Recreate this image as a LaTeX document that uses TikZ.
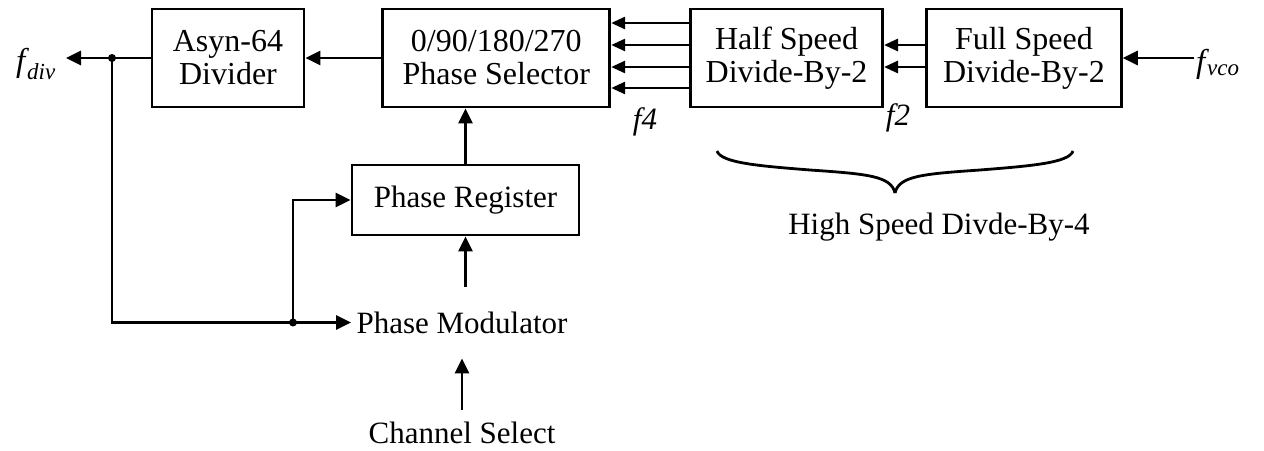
\documentclass[tikz,border=0pt]{standalone}
\usepackage{fontspec}
\setmainfont{Liberation Serif}
\usetikzlibrary{arrows.meta, positioning}
\newcommand{\fsig}[1]{\textit{f}\kern-2pt\textsubscript{\fontsize{23}{23}\selectfont\textit{#1}}}
\tikzset{
  block/.style={
    rectangle, draw, line width=2.8pt, minimum width=#1,
    minimum height=98pt, align=center, inner sep=0pt,
    font=\fontsize{32}{33}\selectfont
  },
  plain block/.style={block=#1, draw=none, font=\fontsize{31}{32}\selectfont},
  label text/.style={inner sep=2pt, align=center},
  arrow/.style={-{Triangle[length=15pt,width=14pt]}, line width=2.8pt},
  small arrow/.style={-{Triangle[length=14pt,width=12pt]}, line width=2.8pt},
  wire/.style={line width=2.8pt},
  junction/.style={circle, fill, inner sep=0pt, minimum size=8pt},
}

\begin{document}
\begin{tikzpicture}[x=1pt, y=-1pt, font=\fontsize{31}{32}\selectfont]
  \useasboundingbox (0,0) rectangle (1264,450);

  % -- divider chain ---------------------------------------------------
  \node[block=152pt] (asyn) at (228,58) {Asyn-64\\Divider};
  \node[block=227pt, right=76pt of asyn] (selector) {0/90/180/270\\Phase Selector};
  \node[block=192pt, right=78pt of selector] (half) {Half Speed\\Divide-By-2};
  \node[block=195pt, right=41pt of half] (full) {Full Speed\\Divide-By-2};

  % -- phase control ---------------------------------------------------
  \node[block=227pt, minimum height=70pt, font=\fontsize{31}{32}\selectfont]
    (register) at (465.5,200) {Phase Register};
  \node[plain block=219pt, minimum height=69pt] (modulator) at (462,322.5) {Phase Modulator};
  \node[label text, inner ysep=12pt] (channel) at (462,433) {Channel Select};

  % -- signal names ----------------------------------------------------
  \node[label text, anchor=east, font=\fontsize{33}{34}\selectfont] (fdiv) at (58,64) {\fsig{div}};
  \node[label text, anchor=west, font=\fontsize{33}{34}\selectfont] (fvco) at (1194,64) {\fsig{vco}};
  \node[label text] (f4) at (645,122) {\textit{f4}};
  \node[label text] (f2) at (898,118) {\textit{f2}};
  \node[label text] (highspeed) at (939,227) {High Speed Divde-By-4};

  \coordinate (split) at (asyn.west -| 112,0);
  \coordinate (tap) at (modulator.west -| 293,0);

  % -- arrows ----------------------------------------------------------
  \draw[arrow] (fvco.west |- full.east) -- (full.east);
  \foreach \y in {45,67}
    \draw[small arrow] (full.west |- 0,\y) -- (half.east |- 0,\y);
  \foreach \y in {23,45,67,88}
    \draw[small arrow] (half.west |- 0,\y) -- (selector.east |- 0,\y);
  \draw[arrow] (selector.west) -- (asyn.east);
  \draw[arrow, shorten >=8pt] (asyn.west) -- (asyn.west -| fdiv.east);
  \draw[wire]  (split) |- (tap);
  \draw[arrow] (tap) -- (modulator.west);
  \draw[arrow] (tap) |- (register.west);
  \draw[arrow] (register.north) -- (register.north |- selector.south);
  \draw[arrow] (register.south |- modulator.north) -- (register.south);
  \draw[arrow] (channel.north) -- (modulator.south);
  \node[junction] at (split) {};
  \node[junction] at (tap) {};

  % -- brace under the two fast dividers -------------------------------
  \draw[wire] (717,151) .. controls (721,163) and (760,166) .. (810,170)
              .. controls (868,174) and (891,176) .. (895,193);
  \draw[wire] (1073,151) .. controls (1069,163) and (1030,166) .. (980,170)
              .. controls (922,174) and (899,176) .. (895,193);
\end{tikzpicture}
\end{document}
